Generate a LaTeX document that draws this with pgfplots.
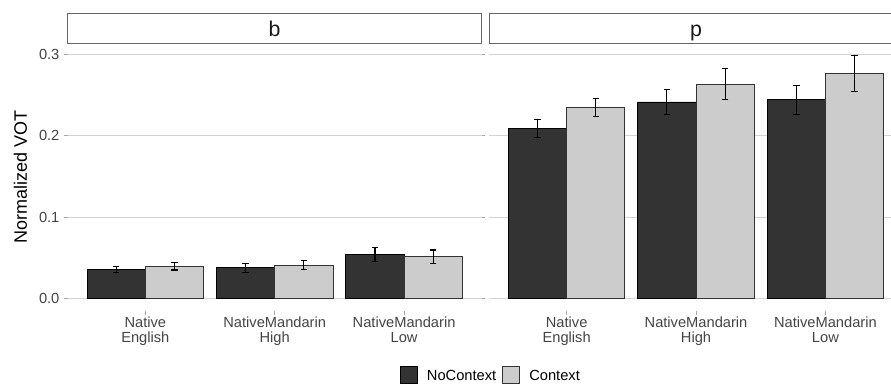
\documentclass[border=0pt]{standalone}
\usepackage{pgfplots}
\usepackage{pgfplotstable}
\pgfplotsset{compat=1.18}
\usepackage{fontspec}
\setmainfont{Liberation Sans}

\definecolor{barDark}{HTML}{333333}
\definecolor{barLight}{HTML}{CCCCCC}
\definecolor{gridGrey}{HTML}{D4D4D4}
\definecolor{tickText}{HTML}{444444}
\definecolor{stripLine}{HTML}{666666}

% mean normalized VOT and error per group, stop /b/
% xl / xr: dodged positions of the NoContext / Context bars
\pgfplotstableread{
x  xl     xr     nc      ncerr   ct      cterr
1  0.775  1.225  0.0361  0.0037  0.0394  0.0045
2  1.775  2.225  0.0377  0.0053  0.0410  0.0060
3  2.775  3.225  0.0538  0.0084  0.0513  0.0082
}\tabB
% stop /p/
\pgfplotstableread{
x  xl     xr     nc      ncerr   ct      cterr
1  0.775  1.225  0.2089  0.0107  0.2347  0.0110
2  1.775  2.225  0.2417  0.0154  0.2634  0.0189
3  2.775  3.225  0.2442  0.0176  0.2766  0.0222
}\tabP

\pgfplotsset{
  facet/.style={
    scale only axis,
    height=200.8pt,
    xmin=0.4,
    ymin=-0.0155, ymax=0.3138,
    axis line style={draw=none},
    ytick={0,0.1,0.2,0.3},
    ymajorgrids,
    grid style={gridGrey, line width=0.7pt},
    xtick={1,2,3},
    xticklabels={Native\\English, NativeMandarin\\High, NativeMandarin\\Low},
    xticklabel style={align=center, font=\fontsize{11}{11.6}\selectfont, text=tickText, inner sep=1.5pt},
    tick align=outside,
    major tick length=2.7pt,
    tick style={gray!70, line width=0.6pt},
    clip=false,
  },
  nobar/.style={ybar, bar width=0.45, bar shift=0, fill=barDark, draw=black, line width=0.55pt},
  ctbar/.style={ybar, bar width=0.45, bar shift=0, fill=barLight, draw=black!80, line width=0.55pt},
  ebar/.style={draw=none, mark=none, forget plot,
    error bars/.cd, y dir=both, y explicit,
    error bar style={draw=black, line width=0.8pt},
    error mark options={rotate=90, mark size=2.4pt, line width=0.8pt, draw=black}},
}

\begin{document}
\begin{tikzpicture}
\useasboundingbox (0,0) rectangle (668.25pt,-288.75pt);

% panel b
\begin{axis}[facet,
  at={(50.775pt,-233.25pt)}, anchor=south west,
  width=310.5pt, xmax=3.6,
  yticklabel style={font=\fontsize{11}{12}\selectfont, text=tickText,
    /pgf/number format/fixed, /pgf/number format/fixed zerofill,
    /pgf/number format/precision=1, /pgf/number format/assume math mode=true},
  ylabel={Normalized VOT},
  ylabel style={at={(axis description cs:-0.114,0.5)}, anchor=center, font=\fontsize{13.5}{15}\selectfont},
]
\addplot[nobar] table[x=xl, y=nc] {\tabB};
\addplot[ctbar] table[x=xr, y=ct] {\tabB};
\addplot[ebar] table[x=xl, y=nc, y error=ncerr] {\tabB};
\addplot[ebar] table[x=xr, y=ct, y error=cterr] {\tabB};
\end{axis}

% panel p
\begin{axis}[facet,
  at={(366.75pt,-233.25pt)}, anchor=south west,
  width=301.5pt, xmax=3.507,
  yticklabels={}, ytick style={draw=none},
]
\addplot[nobar] table[x=xl, y=nc] {\tabP};
\addplot[ctbar] table[x=xr, y=ct] {\tabP};
\addplot[ebar] table[x=xl, y=nc, y error=ncerr] {\tabP};
\addplot[ebar] table[x=xr, y=ct, y error=cterr] {\tabP};
\end{axis}

% facet strips
\draw[stripLine, line width=0.6pt, fill=white] (50.775pt,-9.75pt) rectangle (361.275pt,-32.5pt);
\draw[stripLine, line width=0.6pt, fill=white] (366.75pt,-9.75pt) rectangle (680pt,-32.5pt);
\node[anchor=base, inner sep=0pt, font=\fontsize{16}{18}\selectfont, text=black!90] at (206pt,-27.5pt) {b};
\node[anchor=base, inner sep=0pt, font=\fontsize{16}{18}\selectfont, text=black!90] at (522pt,-27.5pt) {p};

% legend
\draw[black, line width=0.5pt, fill=barDark] (300pt,-275pt) rectangle (312.75pt,-287.75pt);
\node[anchor=west, font=\fontsize{11}{12}\selectfont, inner sep=0pt] at (320pt,-281.4pt) {NoContext};
\draw[black!80, line width=0.5pt, fill=barLight] (376.9pt,-275pt) rectangle (389.65pt,-287.75pt);
\node[anchor=west, font=\fontsize{11}{12}\selectfont, inner sep=0pt] at (396.8pt,-281.4pt) {Context};
\end{tikzpicture}
\end{document}
